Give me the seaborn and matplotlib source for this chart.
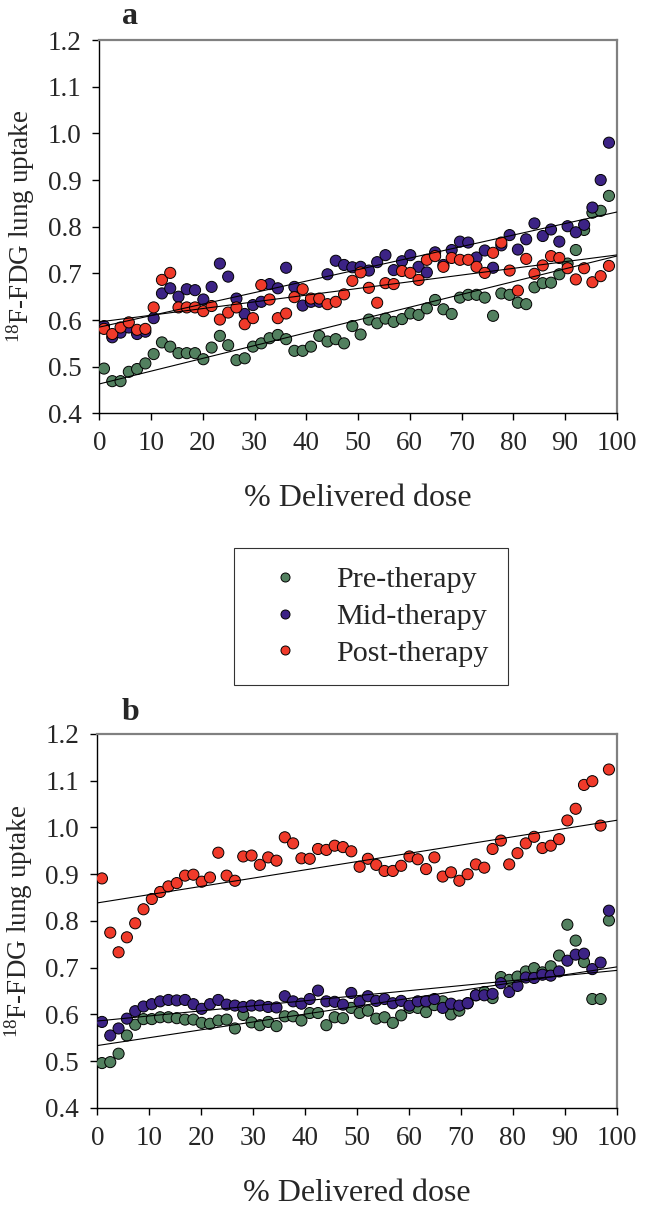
import numpy as np
import pandas as pd
import matplotlib
matplotlib.use("Agg")
import matplotlib.pyplot as plt
from matplotlib.lines import Line2D
import seaborn as sns

# ---------------- data ----------------
dose = [0.9, 2.5, 4.1, 5.7, 7.3, 8.9, 10.5, 12.1, 13.7, 15.3, 16.9, 18.5, 20.1, 21.7, 23.3,
        24.9, 26.5, 28.1, 29.7, 31.3, 32.9, 34.5, 36.1, 37.7, 39.3, 40.9, 42.5, 44.1, 45.7,
        47.3, 48.9, 50.5, 52.1, 53.7, 55.3, 56.9, 58.5, 60.1, 61.7, 63.3, 64.9, 66.5, 68.1,
        69.7, 71.3, 72.9, 74.5, 76.1, 77.7, 79.3, 80.9, 82.5, 84.1, 85.7, 87.3, 88.9, 90.5,
        92.1, 93.7, 95.3, 96.9, 98.5]

a_pre = [0.496, 0.469, 0.469, 0.489, 0.495, 0.507, 0.527, 0.552, 0.543, 0.529,
         0.529, 0.529, 0.516, 0.541, 0.566, 0.546, 0.514, 0.518, 0.543, 0.550,
         0.561, 0.568, 0.559, 0.534, 0.534, 0.543, 0.566, 0.554, 0.559, 0.550,
         0.587, 0.569, 0.601, 0.593, 0.603, 0.596, 0.602, 0.614, 0.611, 0.625,
         0.643, 0.623, 0.613, 0.648, 0.654, 0.654, 0.648, 0.609, 0.657, 0.654,
         0.637, 0.634, 0.670, 0.679, 0.680, 0.698, 0.721, 0.750, 0.793, 0.830,
         0.834, 0.866]
a_mid = [0.587, 0.563, 0.573, 0.584, 0.570, 0.575, 0.604, 0.657, 0.668, 0.650,
         0.666, 0.664, 0.644, 0.671, 0.721, 0.693, 0.646, 0.613, 0.632, 0.639,
         0.677, 0.668, 0.712, 0.671, 0.631, 0.639, 0.639, 0.698, 0.727, 0.718,
         0.713, 0.714, 0.706, 0.724, 0.739, 0.707, 0.726, 0.739, 0.714, 0.702,
         0.745, 0.718, 0.750, 0.768, 0.766, 0.734, 0.749, 0.712, 0.760, 0.782,
         0.751, 0.773, 0.807, 0.780, 0.794, 0.768, 0.801, 0.788, 0.804, 0.841,
         0.900, 0.980]
a_post = [0.581, 0.570, 0.584, 0.595, 0.579, 0.581, 0.627, 0.686, 0.701, 0.627,
          0.627, 0.627, 0.619, 0.630, 0.601, 0.616, 0.627, 0.591, 0.604, 0.675,
          0.644, 0.604, 0.614, 0.649, 0.666, 0.646, 0.646, 0.634, 0.639, 0.655,
          0.684, 0.702, 0.669, 0.637, 0.679, 0.677, 0.705, 0.701, 0.686, 0.729,
          0.737, 0.714, 0.733, 0.729, 0.729, 0.714, 0.701, 0.744, 0.766, 0.706,
          0.663, 0.731, 0.699, 0.717, 0.737, 0.733, 0.711, 0.687, 0.711, 0.681,
          0.694, 0.716]

b_pre = [0.496, 0.498, 0.516, 0.555, 0.578, 0.590, 0.590, 0.594, 0.594, 0.592,
         0.589, 0.589, 0.582, 0.580, 0.587, 0.589, 0.570, 0.599, 0.583, 0.577,
         0.584, 0.575, 0.596, 0.596, 0.587, 0.603, 0.603, 0.577, 0.594, 0.592,
         0.614, 0.603, 0.608, 0.591, 0.594, 0.582, 0.598, 0.614, 0.614, 0.605,
         0.620, 0.628, 0.600, 0.608, 0.624, 0.641, 0.648, 0.635, 0.680, 0.674,
         0.681, 0.692, 0.699, 0.690, 0.703, 0.726, 0.792, 0.758, 0.712, 0.633,
         0.633, 0.801]
b_mid = [0.584, 0.555, 0.570, 0.591, 0.607, 0.617, 0.622, 0.628, 0.631, 0.630,
         0.631, 0.622, 0.612, 0.622, 0.631, 0.621, 0.619, 0.616, 0.619, 0.619,
         0.616, 0.615, 0.639, 0.628, 0.623, 0.633, 0.651, 0.628, 0.627, 0.621,
         0.646, 0.627, 0.639, 0.629, 0.633, 0.624, 0.629, 0.619, 0.628, 0.628,
         0.633, 0.614, 0.623, 0.619, 0.624, 0.641, 0.641, 0.644, 0.667, 0.648,
         0.661, 0.679, 0.678, 0.685, 0.683, 0.692, 0.715, 0.728, 0.730, 0.697,
         0.711, 0.822]
b_post = [0.891, 0.775, 0.733, 0.765, 0.795, 0.825, 0.847, 0.862, 0.874, 0.881,
          0.897, 0.899, 0.884, 0.893, 0.946, 0.897, 0.886, 0.938, 0.940, 0.920,
          0.936, 0.929, 0.979, 0.966, 0.934, 0.933, 0.954, 0.952, 0.961, 0.958,
          0.949, 0.916, 0.933, 0.920, 0.907, 0.907, 0.918, 0.938, 0.932, 0.911,
          0.936, 0.895, 0.904, 0.886, 0.900, 0.921, 0.914, 0.954, 0.972, 0.921,
          0.945, 0.966, 0.980, 0.956, 0.961, 0.975, 1.015, 1.040, 1.091, 1.099,
          1.004, 1.124]

phases = ["Pre-therapy", "Mid-therapy", "Post-therapy"]
panel_labels = ["a", "b"]
x_ticks = list(range(0, 101, 10))
y_ticks = [0.4, 0.5, 0.6, 0.7, 0.8, 0.9, 1.0, 1.1, 1.2]

# ---------------- style ----------------
sns.set_style("ticks")
plt.rcParams["font.family"] = ["Liberation Serif", "DejaVu Serif"]
plt.rcParams["mathtext.fontset"] = "custom"
plt.rcParams["mathtext.rm"] = "Liberation Serif"

palette = {"Pre-therapy": "#52805f", "Mid-therapy": "#3c2385", "Post-therapy": "#f03a2a"}

frames = []
for panel, series in zip(panel_labels, [(a_pre, a_mid, a_post), (b_pre, b_mid, b_post)]):
    for ph, vals in zip(phases, series):
        frames.append(pd.DataFrame({"dose": dose, "uptake": vals, "phase": ph, "panel": panel}))
df = pd.concat(frames, ignore_index=True)

fig = plt.figure(figsize=(6.64, 12.09), dpi=100)
ax_a = fig.add_axes([0.1496, 0.6581, 0.7792, 0.3088])
ax_b = fig.add_axes([0.1465, 0.0836, 0.7823, 0.3093])

for ax, panel in zip([ax_a, ax_b], panel_labels):
    sub = df[df["panel"] == panel]
    ax.set_xlim(0, 100)
    ax.set_ylim(0.4, 1.2)
    sns.scatterplot(data=sub, x="dose", y="uptake", hue="phase", hue_order=phases,
                    palette=palette, s=64, edgecolor="black", linewidth=0.7,
                    legend=False, ax=ax, zorder=3)
    for ph in phases:
        s2 = sub[sub["phase"] == ph]
        sns.regplot(data=s2, x="dose", y="uptake", scatter=False, ci=None,
                    truncate=False, ax=ax,
                    line_kws={"color": "black", "lw": 0.8, "zorder": 4})
    ax.set_xlim(0, 100)
    ax.set_ylim(0.4, 1.2)
    ax.set_xticks(x_ticks)
    ax.set_yticks(y_ticks)
    ax.set_yticklabels([f"{v:.1f}" for v in y_ticks])
    ax.tick_params(axis="both", labelsize=19.5, direction="out", length=5,
                   width=1, color="black", pad=8)
    ax.tick_params(axis="y", pad=8)
    for side in ["left", "bottom"]:
        ax.spines[side].set_color("black")
        ax.spines[side].set_linewidth(1.0)
    for side in ["top", "right"]:
        ax.spines[side].set_visible(True)
        ax.spines[side].set_color("#808080")
        ax.spines[side].set_linewidth(1.6)
    ax.set_xlabel("% Delivered dose", fontsize=23)
    ax.set_ylabel(r"$\mathregular{^{18}}$F-FDG lung uptake", fontsize=19.5)
    ax.xaxis.set_label_coords(0.5, -0.228)
    ax.xaxis.label.set_va("center")
    ax.yaxis.set_label_coords(-0.152, 0.5)
    ax.yaxis.label.set_va("center")

fig.text(130 / 664, 1 - 16 / 1209, "a", fontsize=23, fontweight="bold", ha="center", va="center")
fig.text(130 / 664, 1 - 712 / 1209, "b", fontsize=23, fontweight="bold", ha="center", va="center")

handles = [Line2D([0], [0], marker="o", linestyle="none", markersize=6.5,
                  markerfacecolor=palette[ph], markeredgecolor="black",
                  markeredgewidth=0.7) for ph in phases]
leg = fig.legend(handles, phases, loc="center", bbox_to_anchor=(371 / 664, 1 - 616.5 / 1209),
                 fontsize=21.7, frameon=True, fancybox=False, handletextpad=0.67,
                 borderpad=0.62, labelspacing=0.32, handlelength=2.1, borderaxespad=0)
leg.get_frame().set_edgecolor("black")
leg.get_frame().set_linewidth(0.8)

fig.savefig("out.png", dpi=100)
